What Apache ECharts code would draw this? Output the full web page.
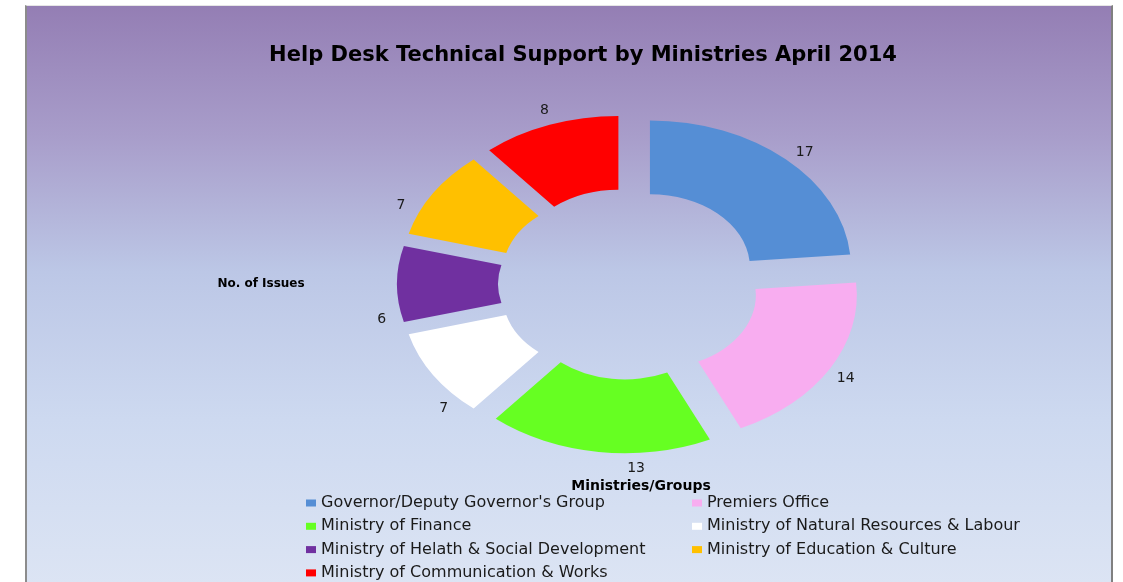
<!DOCTYPE html>
<html>
	<head>
		<meta charset="utf-8">
		<title>Help Desk Technical Support</title>
		<style>
			html, body { margin: 0; padding: 0; background: #ffffff; }
			/* chart area with the purple-to-blue fill */
			#panel {
				position: absolute; left: 25px; top: 5px; width: 1084px; height: 590px;
				border-left: 2px solid #8c8c8c; border-right: 2px solid #808080; border-top: 1px solid #e6e6e6;
				background: linear-gradient(#947eb4 0%, #a89dca 22%, #bcc7e6 45%, #cdd9f0 70%, #dde5f4 100%);
			}
			#container { position: absolute; left: 0; top: 0; width: 1123px; height: 582px; }
		</style>
	</head>
	<body>
		<div id="panel"></div>
		<div id="container"></div>
	</body>
	<script src="https://cdn.jsdelivr.net/npm/echarts@6/dist/echarts.min.js"></script>
	<script type="text/javascript">
		'use strict'
		// data
		var categories = [
			"Governor/Deputy Governor's Group",
			'Premiers Office',
			'Ministry of Finance',
			'Ministry of Natural Resources & Labour',
			'Ministry of Helath & Social Development',
			'Ministry of Education & Culture',
			'Ministry of Communication & Works'
		];
		var issues = [17, 14, 13, 7, 6, 7, 8];

		// styles
		var colors = ['#558ed5', '#f8adf0', '#66ff22', '#ffffff', '#7030a0', '#ffc000', '#ff0000'];
		var FONT = '"DejaVu Sans", sans-serif';
		// where along each slice excel put its number (0 = slice start, 1 = slice end)
		var labelAt = [0.52, 0.51, 0.36, 0.21, 0.13, 0.29, 0.51];

		// doughnut geometry (it is squashed vertically like the excel picture)
		var CX = 629, CY = 284;
		var R_OUT = 201, R_IN = 100;
		var SQUASH = 0.73;
		var EXPLODE = 31;
		var LABEL_R = 252;

		var total = issues.reduce(function (a, b) { return a + b; }, 0);

		function sliceRenderer(k) {
			return function (params, api) {
				var before = 0;
				for (var i = 0; i < k; i++) before += issues[i];
				var v = api.value(0);
				var a0 = -Math.PI / 2 + 2 * Math.PI * before / total;
				var a1 = a0 + 2 * Math.PI * v / total;
				var m = (a0 + a1) / 2;
				var la = a0 + (a1 - a0) * labelAt[k];
				return {
					type: 'group',
					children: [{
						type: 'sector',
						originX: CX,
						originY: CY,
						scaleY: SQUASH,
						shape: {
							cx: CX + EXPLODE * Math.cos(m),
							cy: CY + EXPLODE * Math.sin(m),
							r: R_OUT, r0: R_IN,
							startAngle: a0, endAngle: a1
						},
						style: { fill: colors[k] }
					}, {
						type: 'text',
						x: CX + LABEL_R * Math.cos(la),
						y: CY + LABEL_R * Math.sin(la) * SQUASH,
						style: {
							text: String(v),
							fill: '#1a1a1a',
							fontSize: 14,
							fontFamily: FONT,
							align: 'center',
							verticalAlign: 'middle'
						}
					}]
				};
			};
		}

		var series = categories.map(function (name, k) {
			return {
				type: 'custom',
				name: name,
				coordinateSystem: 'none',
				itemStyle: { color: colors[k] },
				renderItem: sliceRenderer(k),
				data: [[issues[k]]],
				animation: false
			};
		});

		var legendBase = {
			orient: 'vertical',
			top: 495,
			height: 100,
			padding: 0,
			icon: 'rect',
			itemWidth: 10,
			itemHeight: 7,
			itemGap: 7.3,
			selectedMode: false,
			textStyle: { fontSize: 16, lineHeight: 16, fontFamily: FONT, color: '#1a1a1a' }
		};

		var myCharts = echarts.init(document.getElementById('container'));
		var option = {
			backgroundColor: 'transparent',
			animation: false,
			title: [{
				text: 'Help Desk Technical Support by Ministries April 2014',
				left: 578, top: 40, textAlign: 'center',
				textStyle: { fontSize: 21, fontWeight: 'bold', fontFamily: FONT, color: '#000' }
			}, {
				text: 'No. of Issues',
				left: 256, top: 273, textAlign: 'center',
				textStyle: { fontSize: 12, fontWeight: 'bold', fontFamily: FONT, color: '#000' }
			}, {
				text: 'Ministries/Groups',
				left: 636, top: 474, textAlign: 'center',
				textStyle: { fontSize: 14, fontWeight: 'bold', fontFamily: FONT, color: '#000' }
			}],
			legend: [
				Object.assign({}, legendBase, { left: 306, data: [categories[0], categories[2], categories[4], categories[6]] }),
				Object.assign({}, legendBase, { left: 692, data: [categories[1], categories[3], categories[5]] })
			],
			series: series
		};
		myCharts.setOption(option);
	</script>
</html>
